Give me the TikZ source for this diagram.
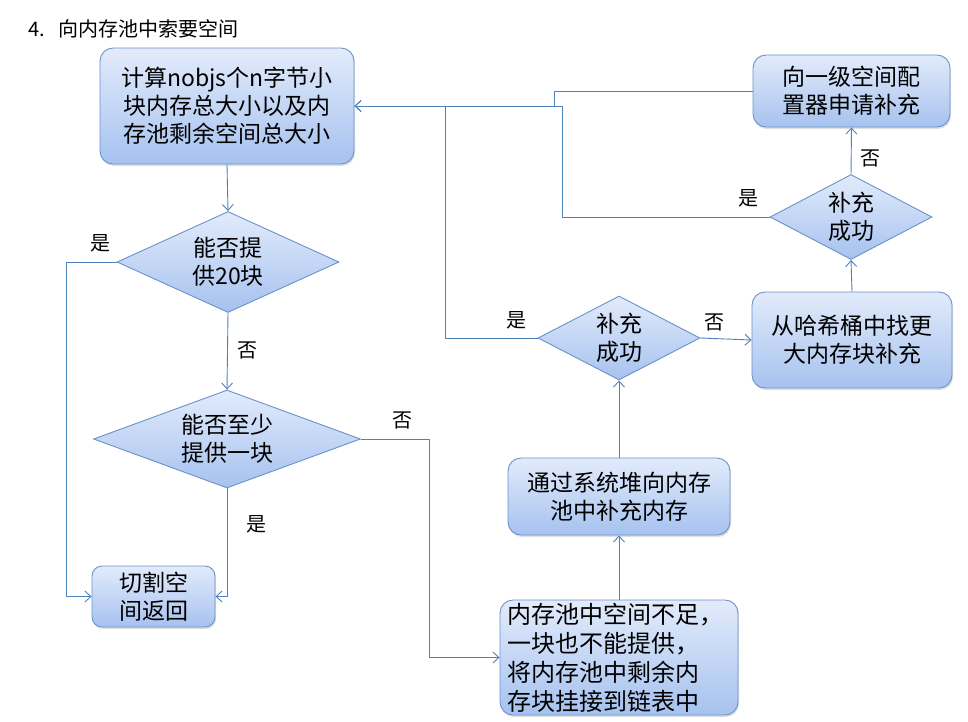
\documentclass[tikz,border=0pt]{standalone}
\usepackage{fontspec}
\setmainfont{Noto Sans CJK SC}
\usetikzlibrary{shapes.geometric,arrows.meta,shadows}
\definecolor{boxtop}{HTML}{E2EBFB}
\definecolor{boxbot}{HTML}{A6C2EF}
\definecolor{boxline}{HTML}{6A92C9}
\definecolor{flow}{HTML}{4F81BD}
\begin{document}
\begin{tikzpicture}[x=1pt,y=-1pt,
	box/.style={draw=boxline,line width=0.9pt,rounded corners=13pt,top color=boxtop,bottom color=boxbot,drop shadow={opacity=0.25,shadow xshift=1pt,shadow yshift=-2pt},font=\fontsize{23}{28}\selectfont,align=center,inner sep=0pt},
	choice/.style={diamond,draw=boxline,line width=0.9pt,top color=boxtop,bottom color=boxbot,font=\fontsize{23}{28}\selectfont,align=center,inner sep=0pt},
	flowline/.style={draw=flow,line width=0.9pt},
	arr/.style={flowline,-{Straight Barb[length=6pt,width=11pt]}},
	tag/.style={font=\fontsize{20}{24}\selectfont}]
	\useasboundingbox (0,0) rectangle (968,721);
	\node[anchor=west,inner sep=0pt,font=\fontsize{20}{24}\selectfont] (title) at (28,29) {4.\hspace{14pt}向内存池中索要空间};
	% left column
	\node[box,minimum width=254pt,minimum height=116pt] (calc) at (227,106) {计算nobjs个n字节小\\块内存总大小以及内\\存池剩余空间总大小};
	\node[choice,minimum width=222pt,minimum height=101pt,shape aspect=2.2] (d1) at (228,262) {能否提\\供20块};
	\node[choice,minimum width=267pt,minimum height=98pt,shape aspect=2.7] (d2) at (227,439) {能否至少\\提供一块};
	\node[box,minimum width=123pt,minimum height=61pt,rounded corners=10pt] (cut) at (153.5,596.5) {切割空\\间返回};
	% right part
	\node[box,minimum width=238pt,minimum height=115pt,text width=224pt,align=left,font=\fontsize{24}{29}\selectfont] (lack) at (619,657.5) {内存池中空间不足，\\一块也不能提供，\\将内存池中剩余内\\存块挂接到链表中};
	\node[box,minimum width=222pt,minimum height=77pt] (heap) at (619,496.5) {通过系统堆向内存\\池中补充内存};
	\node[choice,minimum width=162pt,minimum height=84pt,shape aspect=1.93] (d3) at (619,338) {补充\\成功};
	\node[box,minimum width=200pt,minimum height=96pt] (hash) at (852,340) {从哈希桶中找更\\大内存块补充};
	\node[choice,minimum width=162pt,minimum height=85pt,shape aspect=1.9] (d4) at (851,217) {补充\\成功};
	\node[box,minimum width=197pt,minimum height=72pt] (first) at (851.5,91) {向一级空间配\\置器申请补充};
	% connectors
	\draw[arr] (calc.south) -- (d1.north);
	\draw[arr] (d1.west) -| ([xshift=-25pt]cut.west) -- (cut.west);
	\draw[arr] (d1.south) -- (d2.north);
	\draw[arr] (d2.south) |- (cut.east);
	\draw[arr] (d2.east) -| ([xshift=-70pt]lack.west) -- (lack.west);
	\draw[arr] (lack.north) -- (heap.south);
	\draw[arr] (heap.north) -- (d3.south);
	\draw[arr] (d3.east) -- (hash.west);
	\draw[arr] (d3.west) -| ([xshift=91pt]calc.east) -- (calc.east);
	\draw[arr] (hash.north) -- (d4.south);
	\draw[arr] (d4.north) -- (first.south);
	\draw[arr] (d4.west) -| ([xshift=208pt]calc.east) -- (calc.east);
	\draw[flowline] (first.west) -| ([xshift=200pt]calc.east);
	% yes / no
	\node[tag] (y1) at (100,243) {是};
	\node[tag] (n1) at (247,350) {否};
	\node[tag] (n2) at (402,420) {否};
	\node[tag] (y2) at (256,524) {是};
	\node[tag] (y3) at (516,320) {是};
	\node[tag] (n3) at (714,322) {否};
	\node[tag] (y4) at (748,198) {是};
	\node[tag] (n4) at (870,158) {否};
\end{tikzpicture}
\end{document}
